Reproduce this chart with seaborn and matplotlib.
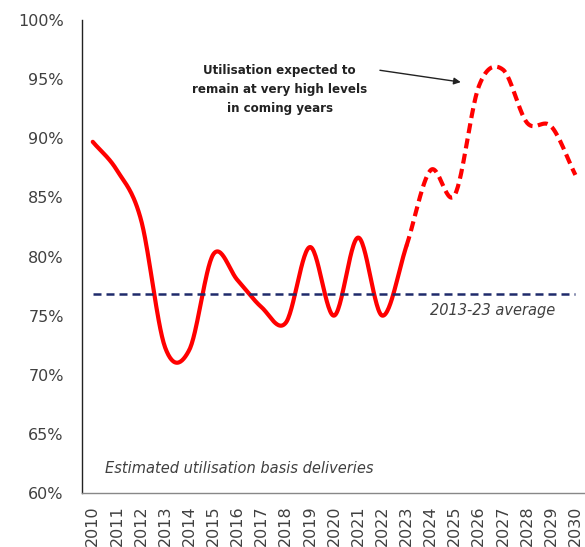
import numpy as np
import pandas as pd
import matplotlib
matplotlib.use("Agg")
import matplotlib.pyplot as plt
import seaborn as sns

# Annual fleet utilisation (%), actuals through 2023 then projection
years = list(range(2010, 2031))
utilisation = [89.7, 87.3, 83.1, 72.3, 72.1, 80.2, 78.0, 75.7, 74.4, 80.8,
               75.0, 81.6, 75.0, 80.9, 87.3, 85.2, 94.4, 95.8, 91.3, 91.0, 86.9]
last_actual_year = 2023
average_2013_23 = 76.8

y_ticks = [60, 65, 70, 75, 80, 85, 90, 95, 100]
y_tick_labels = [f"{v}%" for v in y_ticks]
x_tick_labels = [str(y) for y in years]

annotation_text = "Utilisation expected to\nremain at very high levels\nin coming years"
average_label = "2013-23 average"
basis_note = "Estimated utilisation basis deliveries"


def smooth_curve(xs, ys, n=30):
    """Catmull-Rom spline through the annual points (spreadsheet-style smoothed line)."""
    xs = np.asarray(xs, float)
    ys = np.asarray(ys, float)
    m = np.empty_like(ys)
    m[1:-1] = (ys[2:] - ys[:-2]) / 2.0
    m[0] = ys[1] - ys[0]
    m[-1] = ys[-1] - ys[-2]
    out_x, out_y = [], []
    for i in range(len(xs) - 1):
        t = np.linspace(0, 1, n, endpoint=False)
        h00 = 2 * t**3 - 3 * t**2 + 1
        h10 = t**3 - 2 * t**2 + t
        h01 = -2 * t**3 + 3 * t**2
        h11 = t**3 - t**2
        out_x.append(xs[i] + t * (xs[i + 1] - xs[i]))
        out_y.append(h00 * ys[i] + h10 * m[i] + h01 * ys[i + 1] + h11 * m[i + 1])
    out_x.append([xs[-1]])
    out_y.append([ys[-1]])
    return np.concatenate(out_x), np.concatenate(out_y)


sns.set_theme(style="white")
plt.rcParams["font.family"] = ["DejaVu Sans"]

fig = plt.figure(figsize=(5.85, 5.47), dpi=100)
ax = fig.add_axes([0.140, 0.0987, 0.858, 0.8647])

sx, sy = smooth_curve(years, utilisation)
curve = pd.DataFrame({"year": sx, "util": sy})
actual = curve[curve["year"] <= last_actual_year]
forecast = curve[curve["year"] >= last_actual_year]

sns.lineplot(data=actual, x="year", y="util", ax=ax, color="#FF0000",
             lw=3.0, sort=False, estimator=None)
sns.lineplot(data=forecast, x="year", y="util", ax=ax, color="#FF0000",
             lw=3.0, sort=False, estimator=None, linestyle=(0, (2.4, 1.3)))

avg = pd.DataFrame({"year": [years[0], years[-1]],
                    "util": [average_2013_23, average_2013_23]})
sns.lineplot(data=avg, x="year", y="util", ax=ax, color="#1F2A6B",
             lw=1.8, linestyle=(0, (3.2, 2.0)), estimator=None)

ax.set_xlim(2009.55, 2030.35)
ax.set_ylim(60, 100)
ax.set_yticks(y_ticks)
ax.set_yticklabels(y_tick_labels, fontsize=11.5, color="#404040")
ax.set_xticks(years)
ax.set_xticklabels(x_tick_labels, rotation=90, fontsize=11.5, color="#404040",
                   va="top")
ax.tick_params(axis="y", length=0, pad=13)
ax.tick_params(axis="x", length=0, pad=9)
ax.set_xlabel("")
ax.set_ylabel("")

for side in ("top", "right"):
    ax.spines[side].set_visible(False)
ax.spines["left"].set_color("#222222")
ax.spines["left"].set_linewidth(1.0)
ax.spines["bottom"].set_color("#888888")
ax.spines["bottom"].set_linewidth(1.0)

ax.text(2026.55, 75.4, average_label, style="italic", fontsize=10.5,
        color="#404040", ha="center", va="center")
ax.text(2010.5, 62.1, basis_note, style="italic", fontsize=10.5,
        color="#404040", ha="left", va="center")
ax.text(2017.75, 94.1, annotation_text, ha="center", va="center",
        fontsize=8.6, fontweight="bold", color="#222222", linespacing=1.62)
ax.annotate("", xy=(2025.25, 94.75), xytext=(2021.9, 95.75),
            arrowprops=dict(arrowstyle="-|>", color="#222222", lw=1.0,
                            shrinkA=0, shrinkB=0, mutation_scale=10))

fig.savefig("out.png", dpi=100)
